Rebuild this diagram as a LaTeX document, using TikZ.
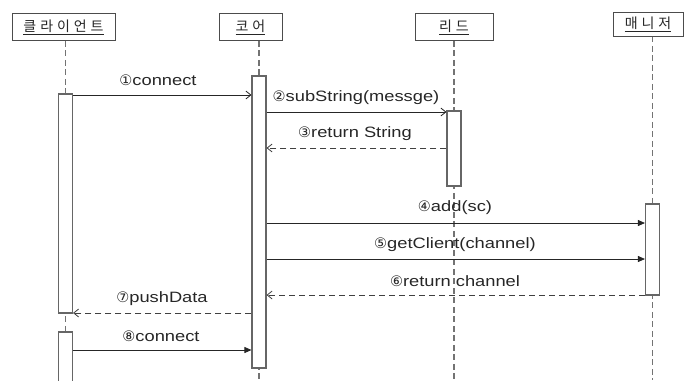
\documentclass[tikz,border=0pt]{standalone}
\usepackage{fontspec}
\setmainfont{Liberation Sans}[FakeStretch=1.22]
\newfontfamily\kr{Noto Sans CJK KR}[LetterSpace=28]
\newfontfamily\sym{DejaVu Sans}
\usetikzlibrary{arrows.meta,backgrounds}
\newcommand{\cnum}[1]{{\sym\fontsize{14.5}{16}\selectfont #1}}
\begin{document}
\begin{tikzpicture}[x=1pt,y=-1pt,
  hdr/.style={draw=black!70, line width=0.9pt, fill=white, inner sep=0pt, font=\kr\fontsize{14}{16}\selectfont, text=black!85},
  act/.style={draw=black!60, line width=1.1pt, fill=white, minimum width=14pt, inner sep=0pt},
  life/.style={draw=black!55, line width=1.1pt, dash pattern=on 6pt off 3.5pt},
  lbl/.style={inner sep=0pt, font=\fontsize{15}{17}\selectfont, text=black!85},
  call/.style={draw=black!85, line width=0.8pt, -{Straight Barb[length=5pt,width=8pt]}},
  sync/.style={draw=black!85, line width=0.8pt, -{Triangle[length=7pt,width=6pt]}},
  ret/.style={draw=black!75, line width=0.8pt, dash pattern=on 6pt off 4pt, -{Straight Barb[length=5pt,width=8pt]}}]
\useasboundingbox (0,0) rectangle (700,380);

% headers
\node[hdr, minimum width=103pt, minimum height=27pt] (hc) at (63.5,27) {\underline{클라이언트}};
\node[hdr, minimum width=63pt, minimum height=27pt] (hco) at (250.5,27) {\underline{코어}};
\node[hdr, minimum width=78pt, minimum height=27pt] (hl) at (454,27) {\underline{리드}};
\node[hdr, minimum width=70pt, minimum height=24pt] (hm) at (648,24) {\underline{매니저}};

% activation boxes
\node[act, minimum height=219pt] (ac1) at (65.5,203.5) {};
\node[act, minimum height=52pt] (ac2) at (65.5,358) {};
\node[act, minimum height=292pt] (aco) at (259,222) {};
\node[act, minimum height=75pt] (al) at (454,148.5) {};
\node[act, minimum height=91pt] (am) at (652.5,249.5) {};

% lifelines
\begin{scope}[on background layer]
\draw[life] (ac1.center |- hc.south) -- (ac1.center |- 0,380);
\draw[life] (aco.center |- hco.south) -- (aco.center |- 0,380);
\draw[life] (al.center |- hl.south) -- (al.center |- 0,380);
\draw[life] (am.center |- hm.south) -- (am.center |- 0,380);
\end{scope}

% messages
\draw[call] (ac1.east |- 0,95) -- (aco.west |- 0,95);
\node[lbl] (l1) at (158,80) {\cnum{①}connect};

\draw[call] (aco.east |- 0,112) -- (al.west |- 0,112);
\node[lbl] (l2) at (356,98) {\cnum{②}subString(messge)};

\draw[ret] (al.west |- 0,148) -- (aco.east |- 0,148);
\node[lbl] (l3) at (355,134) {\cnum{③}return String};

\draw[sync] (aco.east |- 0,223) -- (am.west |- 0,223);
\node[lbl] (l4) at (455,208) {\cnum{④}add(sc)};

\draw[sync] (aco.east |- 0,259) -- (am.west |- 0,259);
\node[lbl] (l5) at (455,245) {\cnum{⑤}getClient(channel)};

\draw[ret] (am.west |- 0,295) -- (aco.east |- 0,295);
\node[lbl] (l6) at (455,281) {\cnum{⑥}return channel};

\draw[ret] (aco.west |- 0,313) -- (ac1.east |- 0,313);
\node[lbl] (l7) at (162,299) {\cnum{⑦}pushData};

\draw[sync] (ac2.east |- 0,350) -- (aco.west |- 0,350);
\node[lbl] (l8) at (161,336) {\cnum{⑧}connect};
\end{tikzpicture}
\end{document}
